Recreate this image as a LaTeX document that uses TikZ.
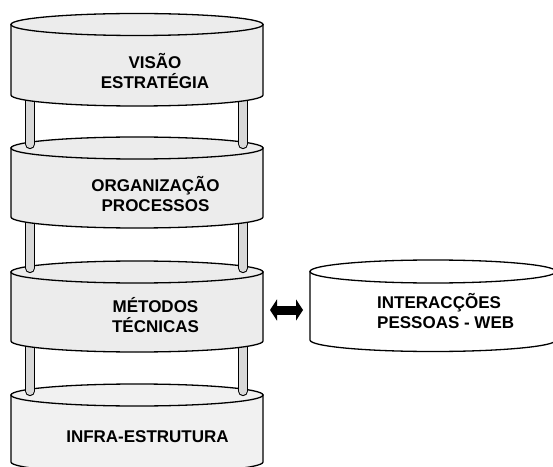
\documentclass[tikz,border=0pt]{standalone}
\usepackage{fontspec}
\setmainfont{Liberation Sans}
\usetikzlibrary{arrows.meta}

\begin{document}
\begin{tikzpicture}[x=1pt,y=1pt,
        camada/.style={fill=gray!15,line width=1.3pt},
        base/.style={fill=gray!11,line width=1.3pt},
        externa/.style={fill=white,line width=1.3pt},
        poste/.style={double=gray!30,double distance=8pt,line width=1.2pt,line cap=round},
        seta/.style={{Triangle[length=7pt,width=21pt]}-{Triangle[length=7pt,width=21pt]},line width=9pt,shorten <=7pt,shorten >=7pt},
        rotulo/.style={inner sep=0pt,font=\fontsize{17}{20}\selectfont\bfseries}]
        \clip (0,0) rectangle (553,466);
        \fill[white] (0,0) rectangle (553,466);

        % infra-estrutura
        \draw[base] (11,71)--(11,4) arc[start angle=180,end angle=360,x radius=126,y radius=11]--(263,71)--cycle;
        \draw[base] (137,71) ellipse[x radius=126,y radius=11];
        \coordinate (infra-l) at (30,75);
        \coordinate (infra-r) at (243,75);
        \node[rotulo] (infra) at (147.5,29.5) {INFRA-ESTRUTURA};

        % metodos
        \coordinate (metodos-l) at (30,198);
        \coordinate (metodos-r) at (243,198);
        \draw[poste] (metodos-l)--(infra-l);
        \draw[poste] (metodos-r)--(infra-r);
        \draw[camada] (11,194)--(11,125) arc[start angle=180,end angle=360,x radius=126,y radius=11]--(263,194)--cycle;
        \draw[camada] (137,194) ellipse[x radius=126,y radius=11];
        \coordinate (metodos-e) at (263,156);
        \node[rotulo,align=center] (metodos) at (155.5,151) {MÉTODOS\\TÉCNICAS};

        % organizacao
        \coordinate (organizacao-l) at (30,322);
        \coordinate (organizacao-r) at (243,322);
        \draw[poste] (organizacao-l)--(metodos-l);
        \draw[poste] (organizacao-r)--(metodos-r);
        \draw[camada] (11,318)--(11,249) arc[start angle=180,end angle=360,x radius=126,y radius=11]--(263,318)--cycle;
        \draw[camada] (137,318) ellipse[x radius=126,y radius=11];
        \node[rotulo,align=center] (organizacao) at (155.5,272) {ORGANIZAÇÃO\\PROCESSOS};

        % visao
        \coordinate (visao-l) at (30,400);
        \coordinate (visao-r) at (243,400);
        \draw[poste] (visao-l)--(organizacao-l);
        \draw[poste] (visao-r)--(organizacao-r);
        \draw[camada] (11,441.5)--(11,371) arc[start angle=180,end angle=360,x radius=126,y radius=11]--(263,441.5)--cycle;
        \draw[camada] (137,441.5) ellipse[x radius=126,y radius=11];
        \node[rotulo,align=center] (visao) at (155,395) {VISÃO\\ESTRATÉGIA};

        % interaccoes
        \draw[externa] (310,194.5)--(310,126) arc[start angle=180,end angle=360,x radius=123,y radius=11.5]--(556,194.5)--cycle;
        \draw[externa] (433,194.5) ellipse[x radius=123,y radius=11.5];
        \coordinate (web-w) at (310,156);
        \node[rotulo,align=left,anchor=west] (web) at (377,155) {INTERACÇÕES\\PESSOAS - WEB};

        \draw[seta] (metodos-e)--(web-w);
    \end{tikzpicture}
\end{document}
